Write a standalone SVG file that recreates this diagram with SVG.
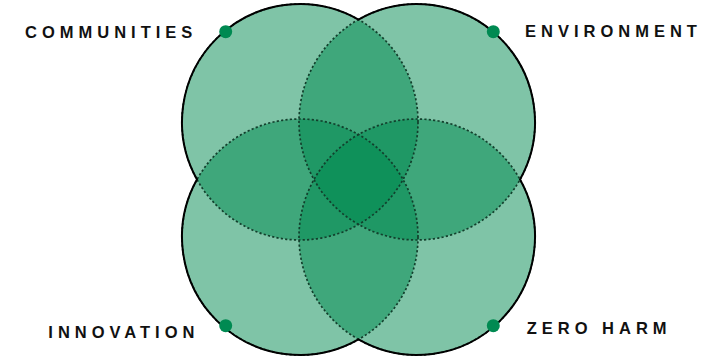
<svg xmlns="http://www.w3.org/2000/svg" width="723" height="359" viewBox="0 0 723 359">
<style>
.fill{fill:rgb(0,137,79);fill-opacity:0.5;stroke:none}
.dot{fill:none;stroke:#123f2c;stroke-width:1.7;stroke-dasharray:2.2 2.2}
.outline{fill:none;stroke:#000;stroke-width:2}
.pin{fill:#008a52}
.lbl{font-family:"Liberation Sans",Arial,sans-serif;font-size:16.5px;font-weight:bold;letter-spacing:5px;fill:#111}
</style>
<rect width="723" height="359" fill="#fff"/>
<g id="circles">
<g id="communities-circle"><circle class="fill" cx="300" cy="122" r="118"/></g>
<g id="environment-circle"><circle class="fill" cx="417" cy="122" r="118"/></g>
<g id="innovation-circle"><circle class="fill" cx="300" cy="237" r="118"/></g>
<g id="zeroharm-circle"><circle class="fill" cx="417" cy="237" r="118"/></g>
</g>
<g id="connectors">
<circle class="dot" cx="300" cy="122" r="118"/>
<circle class="dot" cx="417" cy="122" r="118"/>
<circle class="dot" cx="300" cy="237" r="118"/>
<circle class="dot" cx="417" cy="237" r="118"/>
<path class="outline" d="M358.5,19.52 A118,118 0 0 1 520.04,179.5 A118,118 0 0 1 358.5,339.48 A118,118 0 0 1 196.96,179.5 A118,118 0 0 1 358.5,19.52 Z"/>
</g>
<g id="communities">
<circle class="pin" cx="225.7" cy="31.7" r="6.5"/>
<text class="lbl" x="25" y="37.5">COMMUNITIES</text>
</g>
<g id="environment">
<circle class="pin" cx="493.3" cy="31.7" r="6.5"/>
<text class="lbl" x="525" y="37">ENVIRONMENT</text>
</g>
<g id="innovation">
<circle class="pin" cx="225.7" cy="325.7" r="6.5"/>
<text class="lbl" x="48.3" y="337.7">INNOVATION</text>
</g>
<g id="zeroharm">
<circle class="pin" cx="493.3" cy="325.7" r="6.5"/>
<text class="lbl" x="526.7" y="334.3">ZERO HARM</text>
</g>
</svg>
